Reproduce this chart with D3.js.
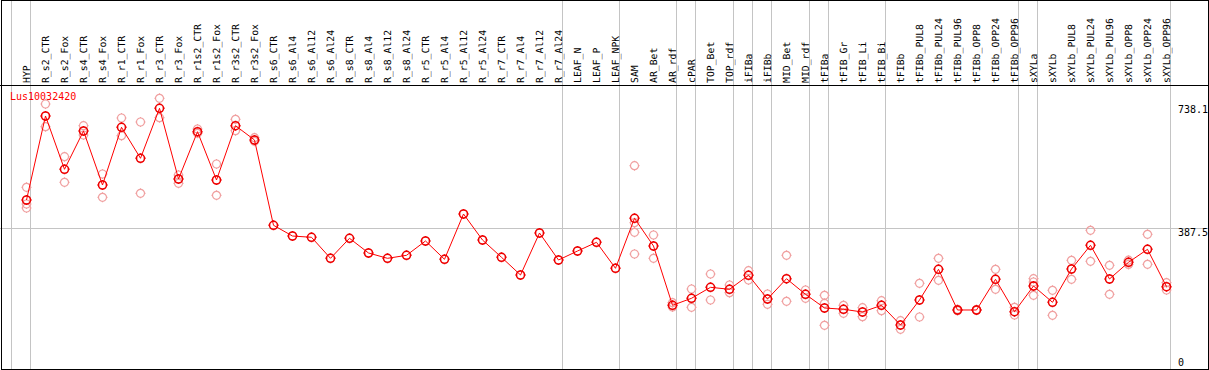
<!DOCTYPE html>
<html><head><meta charset="utf-8">
<script src="https://cdn.jsdelivr.net/npm/d3@7"></script>
<style>html,body{margin:0;padding:0;background:#fff;overflow:hidden}</style>
</head><body>
<svg id="chart" width="1209" height="370"></svg>
<script>
const categories = ["HYP","R_s2_CTR","R_s2_Fox","R_s4_CTR","R_s4_Fox","R_r1_CTR","R_r1_Fox","R_r3_CTR","R_r3_Fox","R_r1s2_CTR","R_r1s2_Fox","R_r3s2_CTR","R_r3s2_Fox","R_s6_CTR","R_s6_Al4","R_s6_Al12","R_s6_Al24","R_s8_CTR","R_s8_Al4","R_s8_Al12","R_s8_Al24","R_r5_CTR","R_r5_Al4","R_r5_Al12","R_r5_Al24","R_r7_CTR","R_r7_Al4","R_r7_Al12","R_r7_Al24","LEAF_N","LEAF_P","LEAF_NPK","SAM","AR_Bet","AR_rdf","cPAR","TOP_Bet","TOP_rdf","iFIBa","iFIBb","MID_Bet","MID_rdf","tFIBa","tFIB_Gr","tFIB_Li","tFIB_Bi","tFIBb","tFIBb_PUL8","tFIBb_PUL24","tFIBb_PUL96","tFIBb_OPP8","tFIBb_OPP24","tFIBb_OPP96","sXYLa","sXYLb","sXYLb_PUL8","sXYLb_PUL24","sXYLb_PUL96","sXYLb_OPP8","sXYLb_OPP24","sXYLb_OPP96"];

const meanValues = [467.7,705.8,554.7,663.3,510.2,673.8,585.9,727.6,527.2,661.3,524.4,678.3,637.8,396.0,365.6,362.0,302.4,359.1,317.5,302.4,310.9,351.5,299.6,428.0,354.3,305.3,255.1,374.1,297.6,323.1,347.8,274.1,415.8,337.3,169.2,189.1,220.2,214.6,254.3,187.1,244.6,200.4,161.6,157.9,150.2,169.2,113.4,184.2,271.3,155.9,155.9,242.9,151.1,223.9,177.7,272.1,339.3,243.8,291.1,327.9,221.9];

const replicateValues = [
 [503.7,456.3,445.0],[739.8,675.4],[590.4,517.9],[678.3,651.9],[541.4,475.3],[700.1,649.9],[688.8,486.7],[756.0,701.0],[538.5,515.0],[668.9,656.7],[569.7,481.0],[696.4,664.1],[644.3,634.0],
 [],[],[],[],[],[],[],[],[],[],[],[],[],[],[],[],[],[],[],
 [564.9,403.3,376.1,314.6],[368.5,302.4],[176.6,164.4],[215.4,163.5],[257.9,184.2],[226.8,204.9],[267.3,240.9],[201.2,172.1],[310.9,180.6],[212.6,189.1],[197.6,174.9,112.5],[169.2,146.5],[162.4,136.9],[182.3,153.9],
 [125.6,101.2],[231.6,136.1],[302.4,240.1],[158.0,154.0],[157.0,155.0],[271.3,214.6],[163.5,141.7],[244.6,235.3,197.6],[211.7,140.9],[296.8,242.9],[381.8,293.9],[282.6,200.4],[297.0,285.0],[370.5,285.4],[233.3,212.6]
];

const groupEnds = ["HYP","R_r7_Al24","LEAF_NPK","AR_rdf","cPAR","TOP_rdf","iFIBa","iFIBb","MID_rdf","tFIBa","tFIB_Bi","tFIBb_OPP96","sXYLa","sXYLb_OPP96"];
const yTickValues = [738.1, 387.5, 0];
const refLineValue = 387.5;
const geneLabel = "Lus10032420";

const W = 1209, H = 370;
const svg = d3.select("#chart");
const font = "'DejaVu Sans Mono', monospace";

const x = d3.scalePoint().domain(categories).range([26.5, 26.5 + 19*(categories.length-1)]);
const step = x.step();
const y = d3.scaleLinear().domain([0, 738.1]).range([365, 104.6]);

// group separator lines
const gridX = [x(categories[0]) - step + 4].concat(groupEnds.map(c => x(c) + 4));
svg.append("g").selectAll("line").data(gridX).join("line")
  .attr("x1", d => Math.floor(d)+0.5).attr("x2", d => Math.floor(d)+0.5)
  .attr("y1", 0).attr("y2", H)
  .attr("stroke", "#c4c4c4").attr("stroke-width", 1);

// reference horizontal line
svg.append("line")
  .attr("x1", 0).attr("x2", W)
  .attr("y1", Math.floor(y(refLineValue))+0.5).attr("y2", Math.floor(y(refLineValue))+0.5)
  .attr("stroke", "#c4c4c4").attr("stroke-width", 1);

// border & header separator
svg.append("rect").attr("x", 1.5).attr("y", 0.5).attr("width", W-2).attr("height", H-1)
  .attr("fill", "none").attr("stroke", "#000").attr("stroke-width", 1);
svg.append("line").attr("x1", 0).attr("x2", W).attr("y1", 85.5).attr("y2", 85.5)
  .attr("stroke", "#000").attr("stroke-width", 1);

// category labels (rotated)
svg.append("g").selectAll("text").data(categories).join("text")
  .attr("transform", d => `translate(${x(d)+3},83) rotate(-90)`)
  .attr("font-family", font).attr("font-size", "9.8px").attr("fill", "#000")
  .attr("text-rendering", "geometricPrecision")
  .text(d => d);

// right axis labels
svg.append("g").selectAll("text").data(yTickValues).join("text")
  .attr("x", 1178)
  .attr("y", d => d === 0 ? 366 : y(d) + 8)
  .attr("font-family", font).attr("font-size", "10px").attr("fill", "#000")
  .text(d => d === 0 ? "0" : d3.format(".1f")(d));

// gene label
svg.append("text").attr("x", 10).attr("y", 100)
  .attr("font-family", font).attr("font-size", "10px").attr("fill", "#ff0000")
  .text(geneLabel);

function marker(g, r, t) {
  g.append("circle").attr("r", r).attr("fill", "none");
  g.append("path").attr("d", `M0,${-r-t}V${-r}M0,${r}V${r+t}M${-r-t},0H${-r}M${r},0H${r+t}`).attr("fill","none");
}

// replicate points
const reps = [];
replicateValues.forEach((arr, i) => arr.forEach(v => reps.push({c: categories[i], v})));
const repG = svg.append("g").attr("stroke", "#f0a0a0").attr("stroke-width", 1.2);
reps.forEach(d => {
  const g = repG.append("g").attr("transform", `translate(${x(d.c)},${y(d.v)})`);
  marker(g, 4, 1);
});

// mean line
const line = d3.line().x((d,i) => x(categories[i])).y(d => y(d));
svg.append("path").datum(meanValues).attr("d", line)
  .attr("fill", "none").attr("stroke", "#ff0000").attr("stroke-width", 1);

// mean markers
const meanG = svg.append("g").attr("stroke", "#ee0000").attr("stroke-width", 1.6);
meanValues.forEach((v, i) => {
  const g = meanG.append("g").attr("transform", `translate(${x(categories[i])},${y(v)})`);
  marker(g, 4, 1);
});
</script>
</body></html>
